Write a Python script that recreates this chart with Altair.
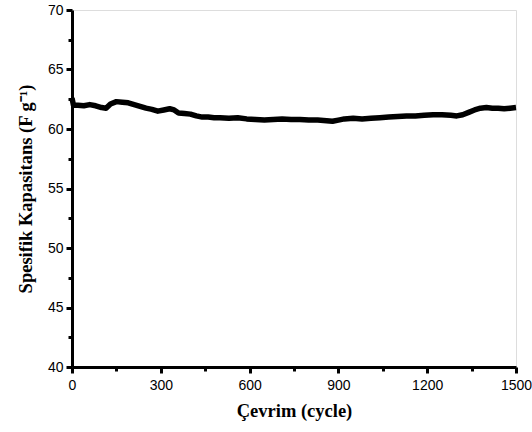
import altair as alt
import pandas as pd

cycles = [0, 5, 20, 40, 60, 80, 100, 115, 130, 150, 170, 190, 210, 230, 250, 270, 290, 310, 330, 345,
          360, 380, 400, 420, 440, 460, 480, 500, 530, 560, 590, 620, 650, 680, 710, 740, 770, 800,
          830, 860, 880, 900, 920, 950, 980, 1010, 1040, 1070, 1100, 1130, 1160, 1190, 1220, 1250,
          1280, 1300, 1320, 1340, 1360, 1380, 1400, 1420, 1440, 1460, 1480, 1500]
capacitance = [62.6, 62.0, 62.0, 61.95, 62.05, 61.95, 61.8, 61.75, 62.1, 62.3, 62.25, 62.2, 62.05, 61.9,
               61.75, 61.65, 61.5, 61.6, 61.7, 61.6, 61.35, 61.3, 61.25, 61.1, 61.0, 61.0, 60.95, 60.95,
               60.9, 60.95, 60.85, 60.8, 60.75, 60.8, 60.85, 60.8, 60.8, 60.75, 60.75, 60.7, 60.65,
               60.75, 60.85, 60.9, 60.85, 60.9, 60.95, 61.0, 61.05, 61.1, 61.1, 61.15, 61.2, 61.2,
               61.15, 61.1, 61.2, 61.4, 61.6, 61.75, 61.8, 61.75, 61.75, 61.7, 61.75, 61.8]

x_ticks = [0, 150, 300, 450, 600, 750, 900, 1050, 1200, 1350, 1500]
y_ticks = [40, 42.5, 45, 47.5, 50, 52.5, 55, 57.5, 60, 62.5, 65, 67.5, 70]

df = pd.DataFrame({"cycle": cycles, "cap": capacitance})

label_font = "Liberation Sans"
title_font = "Liberation Serif"

chart = alt.Chart(df).mark_line(color="black", strokeWidth=5.5, strokeJoin="round").encode(
    x=alt.X("cycle:Q",
            scale=alt.Scale(domain=[0, 1500], nice=False, zero=False),
            axis=alt.Axis(values=x_ticks, title="Çevrim (cycle)", grid=False, format="d",
                          labelExpr="datum.value % 300 == 0 ? datum.label : ''",
                          tickSize={"condition": {"test": "datum.value % 300 == 0", "value": 6}, "value": 4},
                          labelFont=label_font, labelFontSize=14, labelColor="black",
                          labelPadding=5, labelFlush=False,
                          titleFont=title_font, titleFontSize=18.5, titleFontWeight="bold",
                          titleColor="black", titlePadding=9,
                          domainColor="black", domainWidth=3, tickColor="black", tickWidth=3)),
    y=alt.Y("cap:Q",
            scale=alt.Scale(domain=[40, 70], nice=False, zero=False),
            axis=alt.Axis(values=y_ticks, title="Spesifik Kapasitans (F g⁻¹)", grid=False,
                          labelExpr="datum.value % 5 == 0 ? datum.label : ''",
                          tickSize={"condition": {"test": "datum.value % 5 == 0", "value": 6}, "value": 4},
                          labelFont=label_font, labelFontSize=14, labelColor="black",
                          labelPadding=3, labelFlush=False,
                          titleFont=title_font, titleFontSize=18.5, titleFontWeight="bold",
                          titleColor="black", titlePadding=12,
                          domainColor="black", domainWidth=3, tickColor="black", tickWidth=3)),
).properties(
    width=444, height=357,
    autosize=alt.AutoSizeParams(type="none"),
    padding={"left": 72, "top": 10, "right": 16, "bottom": 65},
).configure_view(
    stroke="black", strokeWidth=3
).configure(background="white")

chart.save("out.html", embed_options={"renderer": "svg", "actions": False})
